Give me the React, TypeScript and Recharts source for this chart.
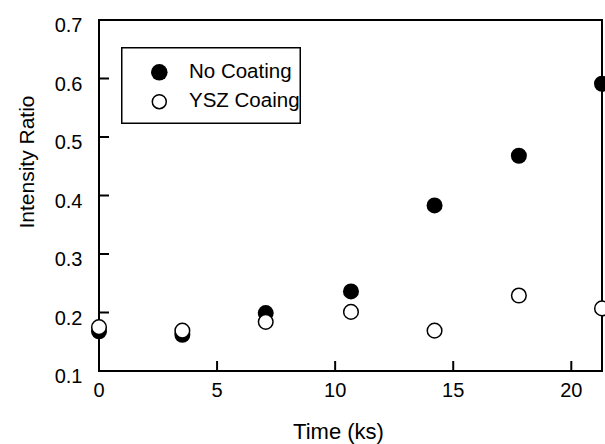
import React from 'react';
import { ScatterChart, Scatter, XAxis, YAxis, ReferenceArea, Legend } from 'recharts';

const timeKs = [0, 3.53, 7.06, 10.67, 14.21, 17.78, 21.3];
const noCoating = [0.168, 0.162, 0.199, 0.236, 0.383, 0.468, 0.591];
const yszCoating = [0.175, 0.169, 0.184, 0.201, 0.169, 0.229, 0.207];
const xTicks = [0, 5, 10, 15, 20];
const yTicks = [0.1, 0.2, 0.3, 0.4, 0.5, 0.6, 0.7];
const X_MAX = 21.3;

const noCoatingData = timeKs.map((x, i) => ({ x, y: noCoating[i] }));
const yszData = timeKs.map((x, i) => ({ x, y: yszCoating[i] }));

const FONT = '"Liberation Sans", Arial, Helvetica, sans-serif';

const XTick = (props: any) => (
  <text x={props.x} y={props.y} textAnchor="middle" fontSize={20} fontFamily={FONT} fill="#000">
    {props.payload.value}
  </text>
);

const YTick = (props: any) => (
  <text x={props.x} y={props.y + 12} textAnchor="end" fontSize={20} fontFamily={FONT} fill="#000">
    {Number(props.payload.value).toFixed(1)}
  </text>
);

const FilledDot = (p: any) => <circle cx={p.cx} cy={p.cy} r={8} fill="#000" />;
const OpenDot = (p: any) => <circle cx={p.cx} cy={p.cy} r={7.3} fill="#fff" stroke="#000" strokeWidth={1.5} />;

const LegendBox = () => (
  <svg width={180} height={77} style={{ display: 'block' }}>
    <rect x={0.75} y={0.75} width={178.5} height={75.5} fill="#fff" stroke="#000" strokeWidth={1.5} />
    <circle cx={38.3} cy={25.3} r={8.3} fill="#000" />
    <text x={68} y={30.5} fontSize={20.5} fontFamily={FONT} fill="#000">No Coating</text>
    <circle cx={38.3} cy={54.7} r={7} fill="#fff" stroke="#000" strokeWidth={1.5} />
    <text x={68} y={59.5} fontSize={20.5} fontFamily={FONT} fill="#000">YSZ Coaing</text>
  </svg>
);

export default function App() {
  return (
    <div style={{ position: 'absolute', left: 0, top: 0, width: 605, height: 444 }}>
      <ScatterChart width={605} height={444} margin={{ top: 20, right: 3, bottom: 0, left: 0 }}>
        <XAxis
          type="number"
          dataKey="x"
          domain={[0, X_MAX]}
          ticks={xTicks}
          height={73}
          axisLine={{ stroke: '#000', strokeWidth: 2 }}
          tickLine={{ stroke: '#000', strokeWidth: 2 }}
          tickSize={-10}
          tickMargin={36}
          tick={<XTick />}
          interval={0}
          label={{
            content: () => (
              <text x={338.5} y={439} textAnchor="middle" fontSize={22} fontFamily={FONT} fill="#000">
                Time (ks)
              </text>
            ),
          }}
        />
        <YAxis
          type="number"
          dataKey="y"
          domain={[0.1, 0.7]}
          ticks={yTicks}
          width={99}
          axisLine={{ stroke: '#000', strokeWidth: 2 }}
          tickLine={{ stroke: '#000', strokeWidth: 2 }}
          tickSize={-10}
          tickMargin={26.5}
          tick={<YTick />}
          interval={0}
          label={{
            content: () => (
              <text
                x={34}
                y={162}
                transform="rotate(-90 34 162)"
                textAnchor="middle"
                fontSize={21}
                fontFamily={FONT}
                fill="#000"
              >
                Intensity Ratio
              </text>
            ),
          }}
        />
        <ReferenceArea
          x1={0}
          x2={X_MAX}
          y1={0.1}
          y2={0.7}
          fill="none"
          fillOpacity={0}
          stroke="#000"
          strokeWidth={2}
          ifOverflow="visible"
        />
        <Legend
          layout="horizontal"
          verticalAlign="middle"
          align="center"
          wrapperStyle={{ left: 121, top: 47, width: 180, height: 77 }}
          content={() => <LegendBox />}
        />
        <Scatter name="No Coating" data={noCoatingData} shape={FilledDot} isAnimationActive={false} />
        <Scatter name="YSZ Coaing" data={yszData} shape={OpenDot} isAnimationActive={false} />
      </ScatterChart>
    </div>
  );
}
